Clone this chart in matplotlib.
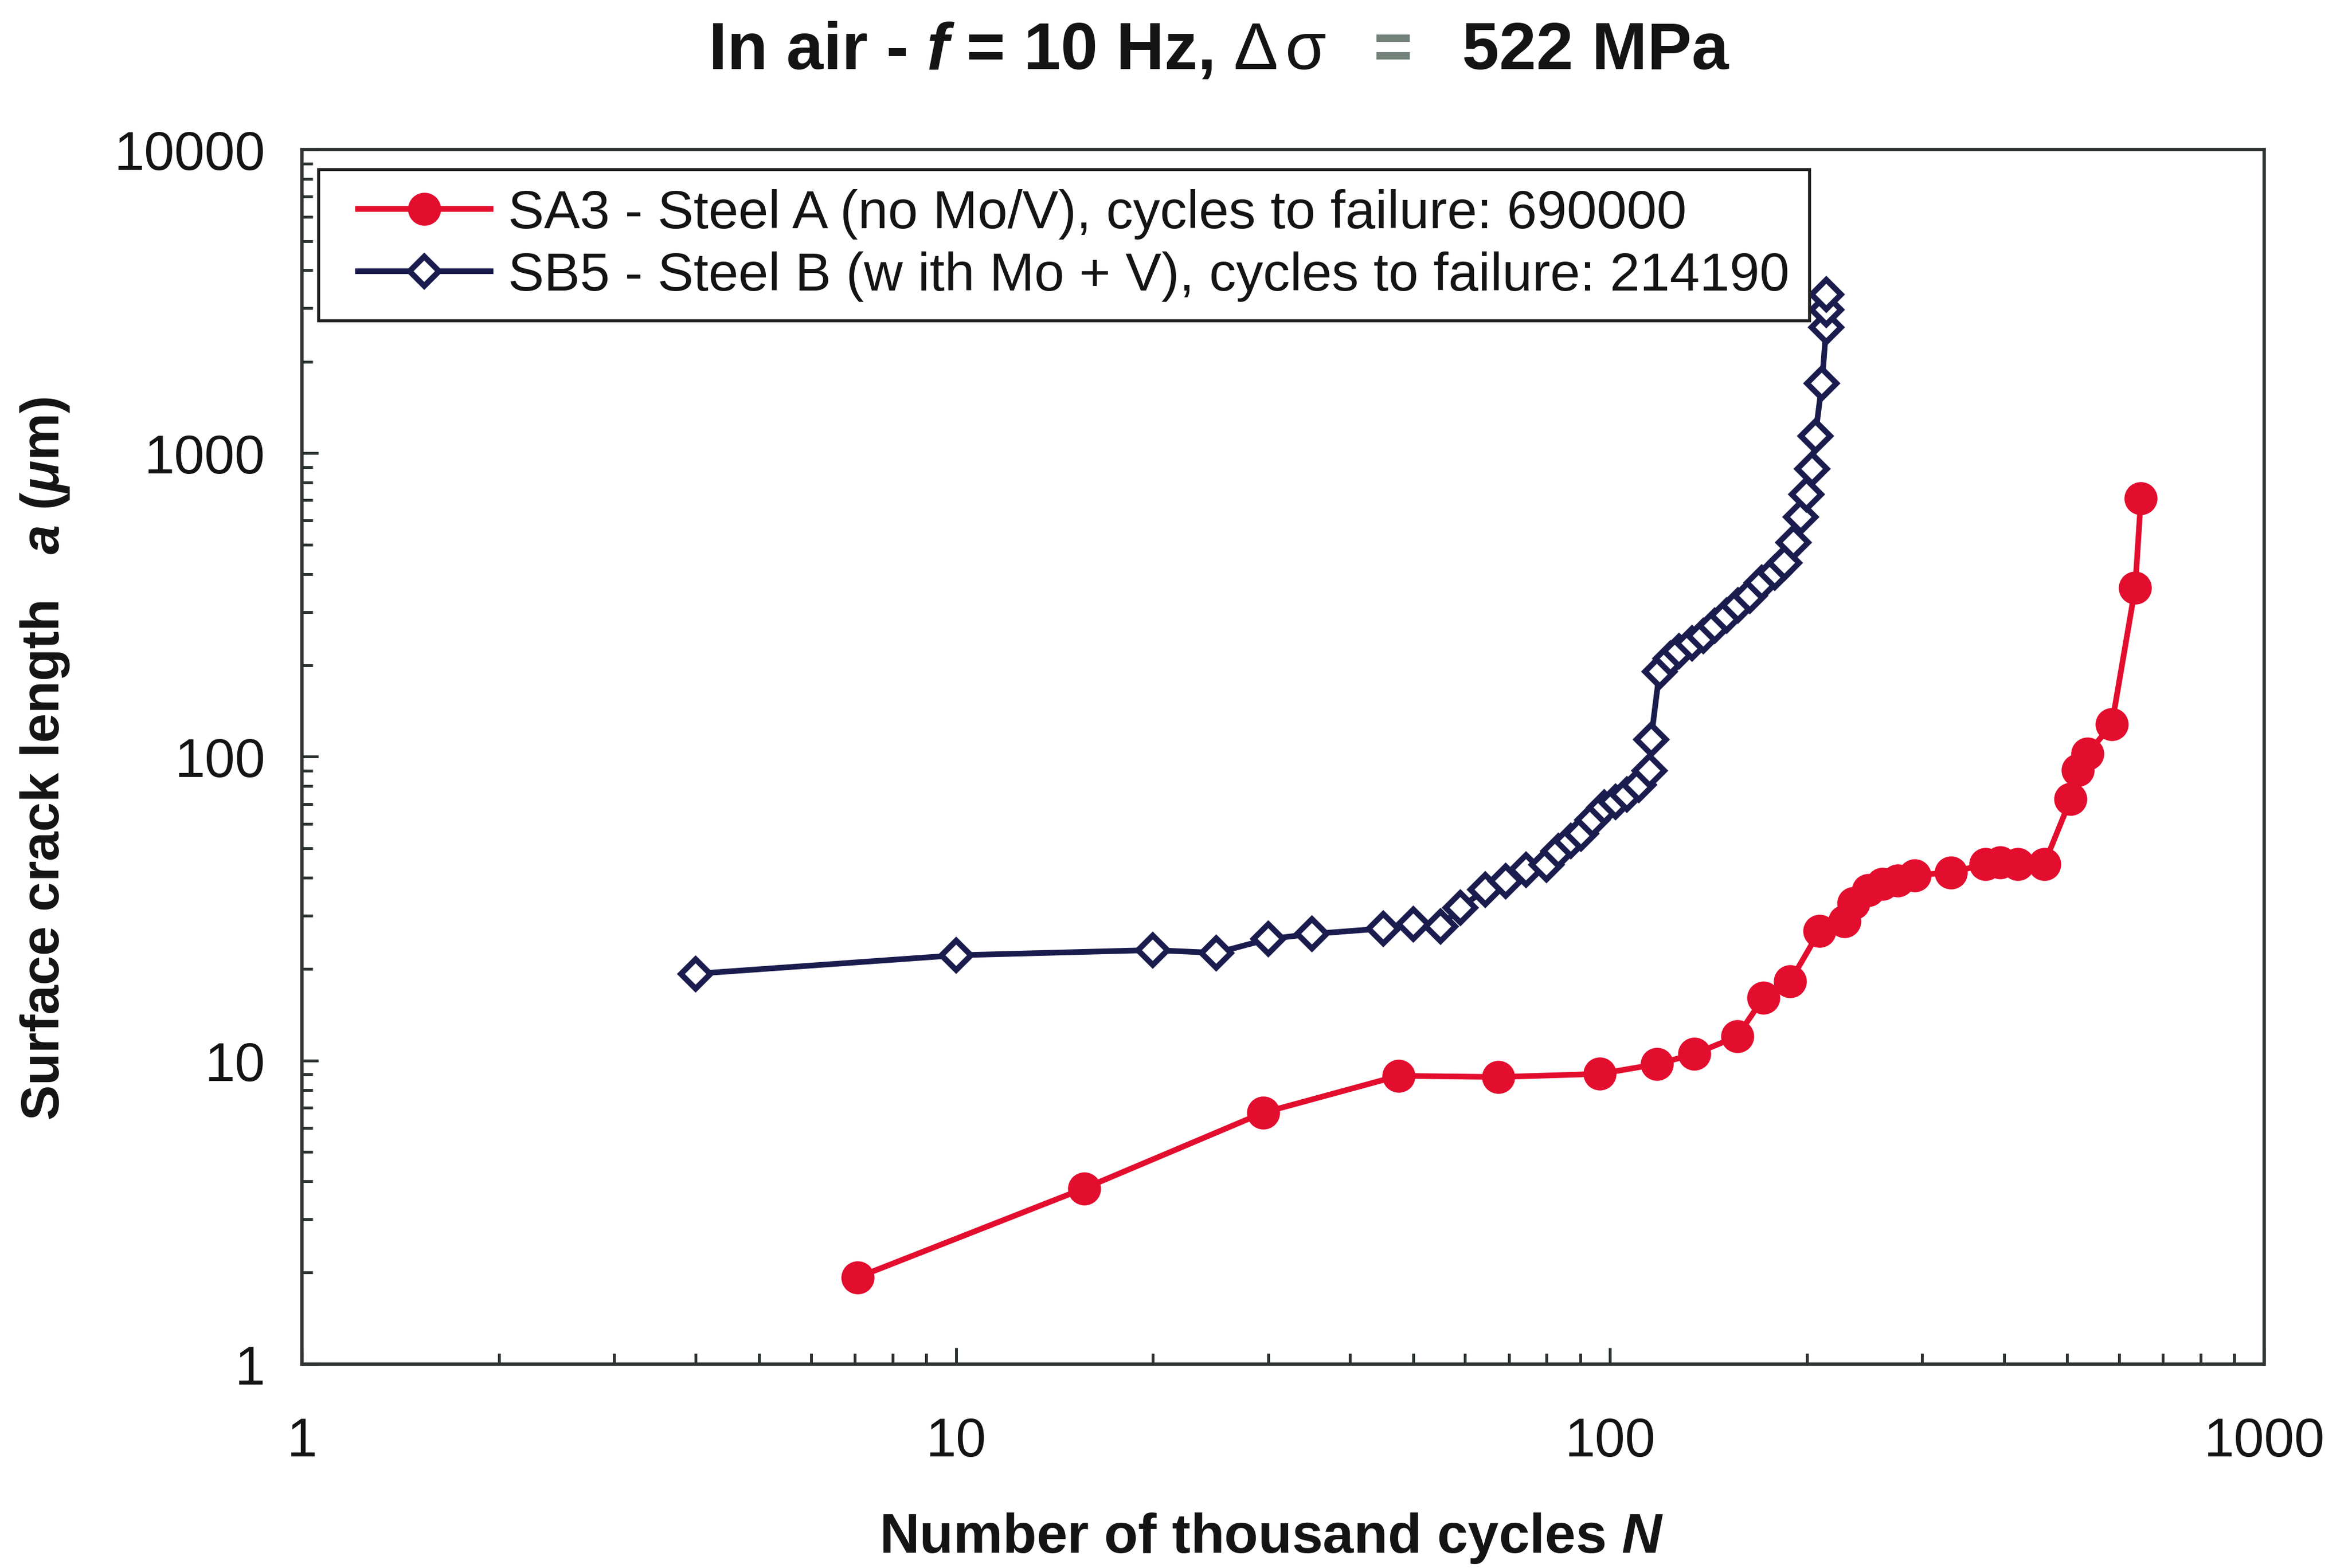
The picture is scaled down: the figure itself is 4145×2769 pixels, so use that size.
import matplotlib
matplotlib.use("Agg")
import matplotlib.pyplot as plt
from matplotlib.ticker import FixedLocator, FixedFormatter, LogLocator, NullFormatter
from matplotlib.offsetbox import TextArea, HPacker, AnchoredOffsetbox, DrawingArea
from matplotlib.legend_handler import HandlerLine2D

plt.rcParams['font.family'] = ['Liberation Sans', 'DejaVu Sans']
plt.rcParams['mathtext.fontset'] = 'custom'
plt.rcParams['mathtext.rm'] = 'Liberation Sans:bold'
plt.rcParams['mathtext.it'] = 'Liberation Sans:italic:bold'
plt.rcParams['mathtext.bf'] = 'Liberation Sans:bold'

# SA3 - Steel A (no Mo/V): thousand cycles vs surface crack length (um)
n_sa3 = [7.07, 15.7, 29.5, 47.5, 67.4, 96.5, 118, 134.6, 156.4, 171.7, 188.5,
         209, 228, 235.7, 248, 261, 275, 292, 332, 375, 395, 420, 461,
         506, 519, 537, 585, 635, 648]
a_sa3 = [1.93, 3.79, 6.73, 8.9, 8.82, 9.03, 9.73, 10.5, 12.0, 16.1, 18.2,
         26.7, 28.7, 33.0, 36.4, 38.1, 39.1, 40.7, 41.6, 44.3, 44.9, 44.3, 44.3,
         72.6, 90.4, 102.4, 128, 360, 710]

# SB5 - Steel B (with Mo + V)
n_sb5 = [4, 10, 20, 25, 30, 35, 45, 50, 55, 59, 64.4, 69.2, 74.4, 79.9, 83.3,
         87, 90.3, 94, 98, 102, 106, 110.6, 115, 115.5, 119, 123.8, 127.4,
         133.3, 138.8, 144.5, 150.6, 156.7, 163.6, 170.5, 178.5, 184.7, 190.5,
         195.6, 199.5, 203.5, 205.9, 210.8, 214.0, 214.1, 214.19]
a_sb5 = [19.3, 22.2, 23.1, 22.6, 25.1, 26.1, 27.2, 28.1, 27.6, 31.8, 36.5, 39.0,
         42.5, 44.2, 49.0, 52.9, 56.0, 62.0, 68.0, 71.0, 75.0, 81.0, 90.0, 114,
         191, 211, 223, 237, 250, 270, 292, 315, 340, 374, 404, 435, 508,
         617, 731, 887, 1138, 1698, 2596, 2965, 3333]

series_labels = ["SA3 - Steel A (no Mo/V), cycles to failure: 690000",
                 "SB5 - Steel B (w ith Mo + V), cycles to failure: 214190"]

x_ticks = [1, 10, 100, 1000]
x_tick_labels = ["1", "10", "100", "1000"]
y_ticks = [1, 10, 100, 1000, 10000]
y_tick_labels = ["1", "10", "100", "1000", "10000"]

RED = "#e30d2e"
NAVY = "#1b1c4e"
SPINE = "#2e3434"
TXT = "#141414"


class InsetLineHandler(HandlerLine2D):
    """Legend line handler whose line starts a little to the right."""

    def __init__(self, inset, **kw):
        super().__init__(**kw)
        self.inset = inset

    def create_artists(self, legend, orig_handle, xdescent, ydescent,
                       width, height, fontsize, trans):
        d = self.inset * fontsize
        return super().create_artists(legend, orig_handle, xdescent - d,
                                      ydescent, width - d, height,
                                      fontsize, trans)


DPI = 300
fig = plt.figure(figsize=(4145 / DPI, 2770 / DPI), dpi=DPI, facecolor="white")
ax = fig.add_axes([0.1286, 0.1300, 0.8357, 0.7743])
ax.set_facecolor("white")

line_a, = ax.plot(n_sa3, a_sa3, color=RED, lw=2.4, marker="o", ms=13,
                  mfc=RED, mec=RED, label=series_labels[0], zorder=3)
line_b, = ax.plot(n_sb5, a_sb5, color=NAVY, lw=2.4, marker="D", ms=8.8,
                  mfc="white", mec=NAVY, mew=2.4, label=series_labels[1], zorder=4)

ax.set_xscale("log")
ax.set_yscale("log")
ax.set_xlim(x_ticks[0], x_ticks[-1])
ax.set_ylim(y_ticks[0], y_ticks[-1])

ax.xaxis.set_major_locator(FixedLocator(x_ticks))
ax.xaxis.set_major_formatter(FixedFormatter(x_tick_labels))
ax.yaxis.set_major_locator(FixedLocator(y_ticks))
ax.yaxis.set_major_formatter(FixedFormatter(y_tick_labels))
for axis in (ax.xaxis, ax.yaxis):
    axis.set_minor_locator(LogLocator(base=10, subs=range(2, 10)))
    axis.set_minor_formatter(NullFormatter())

ax.tick_params(which="both", direction="in", top=False, right=False,
               color=SPINE, width=1.2)
ax.tick_params(which="major", length=7, labelsize=23, labelcolor=TXT)
ax.tick_params(axis="x", which="major", pad=22)
ax.tick_params(axis="y", which="major", pad=15.5)
ax.tick_params(which="minor", length=4.5)

for sp in ax.spines.values():
    sp.set_color(SPINE)
    sp.set_linewidth(1.4)

ax.set_xlabel("Number of thousand cycles $N$", fontsize=23.5,
              fontweight="bold", color=TXT, va="center")
ax.xaxis.set_label_coords(0.494, -0.143)
ax.set_ylabel("Surface crack length   $a$ ($\\mu$m)", fontsize=22.5,
              fontweight="bold", color=TXT, va="center")
ax.yaxis.set_label_coords(-0.131, 0.499)

handler = InsetLineHandler(0.38)
leg = ax.legend(loc="upper left", bbox_to_anchor=(0.0084, 0.9837),
                borderaxespad=0, fontsize=22.8, frameon=True, fancybox=False,
                framealpha=1, edgecolor="#222222", borderpad=0.36,
                labelspacing=0.22, handlelength=2.84, handletextpad=0.33,
                handler_map={line_a: handler, line_b: handler})
leg.get_frame().set_linewidth(1.3)
for t in leg.get_texts():
    t.set_color(TXT)

# Title assembled from differently styled pieces
bold = dict(fontfamily="Liberation Sans", fontweight="bold", fontsize=28.2, color=TXT)
plain = {**bold, "fontweight": "normal"}
delta_sigma = HPacker(children=[TextArea("\u0394", textprops=plain),
                                TextArea("\u03c3", textprops=plain)],
                      align="baseline", pad=0, sep=3)
pieces = [
    TextArea("In air -", textprops=bold),
    TextArea("f", textprops={**bold, "fontstyle": "italic"}),
    TextArea("= 10 Hz,", textprops=bold),
    delta_sigma,
    DrawingArea(5, 1),
    TextArea("=", textprops={**bold, "color": "#72827a"}),
    DrawingArea(6, 1),
    TextArea("522 MPa", textprops=bold),
]
title_box = HPacker(children=pieces, align="baseline", pad=0, sep=7.5)
fig.add_artist(AnchoredOffsetbox(loc="center", child=title_box, pad=0,
                                 borderpad=0, frameon=False,
                                 bbox_to_anchor=(0.519, 0.967),
                                 bbox_transform=fig.transFigure))

fig.savefig("out.png", dpi=DPI, facecolor="white")
